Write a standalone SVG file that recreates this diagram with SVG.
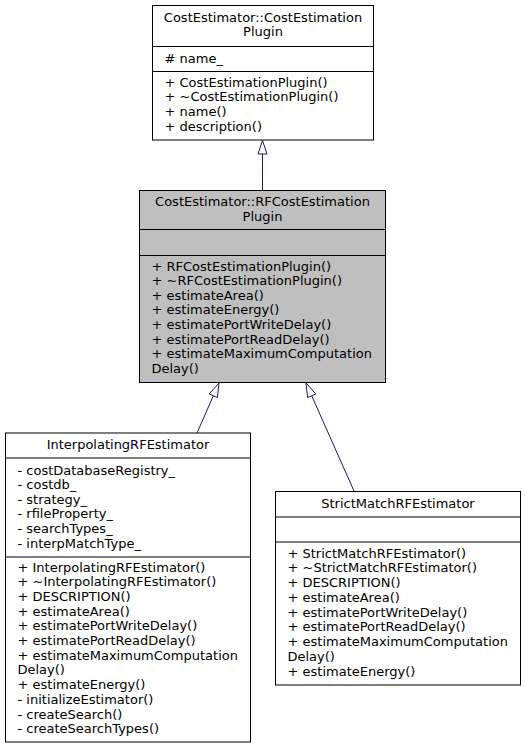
<svg xmlns="http://www.w3.org/2000/svg" width="525" height="749" viewBox="0 0 525 749">
<style>
text{font-family:"DejaVu Sans","Noto Sans",sans-serif;font-size:13px;fill:#000}
.c{text-anchor:middle}
.box{fill:#fff;stroke:#000;stroke-width:1}
.cur{fill:#bfbfbf;stroke:#000;stroke-width:1}
.sep{stroke:#000;stroke-width:1}
.edge{stroke:#191970;stroke-width:1;fill:none}
.head{fill:#fff;stroke:#191970;stroke-width:1}
</style>
<rect width="525" height="749" fill="#fff"/>
<g id="connectors">
<line class="edge" x1="262.5" y1="190" x2="262.5" y2="154"/>
<polygon class="head" points="262.5,140.5 258,154 267,154"/>
<line class="edge" x1="197" y1="433" x2="213.3" y2="395.8"/>
<polygon class="head" points="219,383 217.4,397.6 209.2,393.9"/>
<line class="edge" x1="354" y1="491" x2="311.7" y2="395.8"/>
<polygon class="head" points="306,383 315.8,394 307.6,397.6"/>
</g>
<g id="node-CostEstimationPlugin">
<rect class="box" x="152.5" y="5.5" width="221" height="134.5"/>
<line class="sep" x1="152.5" y1="46.5" x2="373.5" y2="46.5"/>
<line class="sep" x1="152.5" y1="71.5" x2="373.5" y2="71.5"/>
<text class="c" x="263" y="21.5">CostEstimator::CostEstimation</text>
<text class="c" x="263" y="36.2">Plugin</text>
<text x="164.5" y="62.5"># name_</text>
<text x="164.5" y="86.5">+ CostEstimationPlugin()</text>
<text x="164.5" y="101.2">+ ~CostEstimationPlugin()</text>
<text x="164.5" y="115.8">+ name()</text>
<text x="164.5" y="130.5">+ description()</text>
</g>
<g id="node-RFCostEstimationPlugin">
<rect class="cur" x="139.5" y="190.5" width="246" height="192"/>
<line class="sep" x1="139.5" y1="229.5" x2="385.5" y2="229.5"/>
<line class="sep" x1="139.5" y1="255.5" x2="385.5" y2="255.5"/>
<text class="c" x="262.5" y="206.2">CostEstimator::RFCostEstimation</text>
<text class="c" x="262.5" y="221">Plugin</text>
<text x="151.5" y="270.5">+ RFCostEstimationPlugin()</text>
<text x="151.5" y="285.1">+ ~RFCostEstimationPlugin()</text>
<text x="151.5" y="299.8">+ estimateArea()</text>
<text x="151.5" y="314.4">+ estimateEnergy()</text>
<text x="151.5" y="329">+ estimatePortWriteDelay()</text>
<text x="151.5" y="343.6">+ estimatePortReadDelay()</text>
<text x="151.5" y="358.2">+ estimateMaximumComputation</text>
<text x="151.5" y="372.8">Delay()</text>
</g>
<g id="node-InterpolatingRFEstimator">
<rect class="box" x="5.5" y="433" width="245" height="309"/>
<line class="sep" x1="5.5" y1="458" x2="250.5" y2="458"/>
<line class="sep" x1="5.5" y1="557" x2="250.5" y2="557"/>
<text class="c" x="128" y="448.5">InterpolatingRFEstimator</text>
<text x="17.5" y="474.5">- costDatabaseRegistry_</text>
<text x="17.5" y="489.1">- costdb_</text>
<text x="17.5" y="503.7">- strategy_</text>
<text x="17.5" y="518.3">- rfileProperty_</text>
<text x="17.5" y="532.9">- searchTypes_</text>
<text x="17.5" y="547.5">- interpMatchType_</text>
<text x="17.5" y="571.5">+ InterpolatingRFEstimator()</text>
<text x="17.5" y="586.2">+ ~InterpolatingRFEstimator()</text>
<text x="17.5" y="600.9">+ DESCRIPTION()</text>
<text x="17.5" y="615.6">+ estimateArea()</text>
<text x="17.5" y="630.3">+ estimatePortWriteDelay()</text>
<text x="17.5" y="645">+ estimatePortReadDelay()</text>
<text x="17.5" y="659.7">+ estimateMaximumComputation</text>
<text x="17.5" y="674.4">Delay()</text>
<text x="17.5" y="689.1">+ estimateEnergy()</text>
<text x="17.5" y="703.8">- initializeEstimator()</text>
<text x="17.5" y="718.5">- createSearch()</text>
<text x="17.5" y="733.2">- createSearchTypes()</text>
</g>
<g id="node-StrictMatchRFEstimator">
<rect class="box" x="275.5" y="491.5" width="245" height="193.5"/>
<line class="sep" x1="275.5" y1="517" x2="520.5" y2="517"/>
<line class="sep" x1="275.5" y1="542" x2="520.5" y2="542"/>
<text class="c" x="398" y="507.5">StrictMatchRFEstimator</text>
<text x="287.5" y="557.5">+ StrictMatchRFEstimator()</text>
<text x="287.5" y="572.2">+ ~StrictMatchRFEstimator()</text>
<text x="287.5" y="587">+ DESCRIPTION()</text>
<text x="287.5" y="601.7">+ estimateArea()</text>
<text x="287.5" y="616.5">+ estimatePortWriteDelay()</text>
<text x="287.5" y="631.2">+ estimatePortReadDelay()</text>
<text x="287.5" y="646">+ estimateMaximumComputation</text>
<text x="287.5" y="660.7">Delay()</text>
<text x="287.5" y="675.5">+ estimateEnergy()</text>
</g>
</svg>
